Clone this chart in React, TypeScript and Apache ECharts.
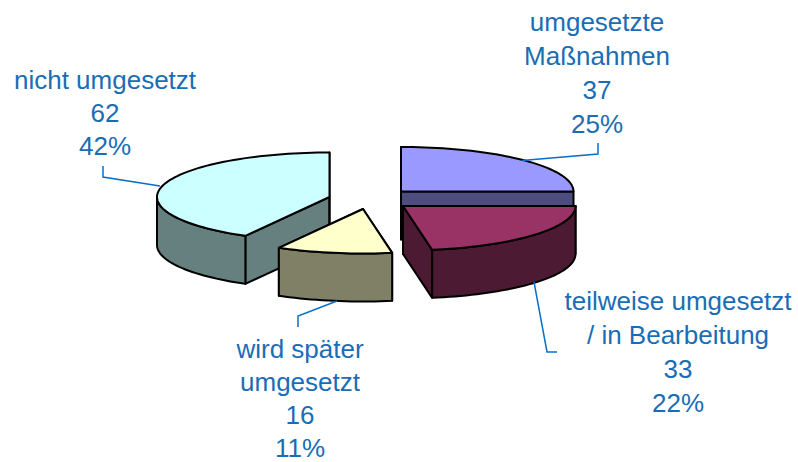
import React, { useEffect, useRef } from "react";
import * as echarts from "echarts";

const categories = ["umgesetzte\nMaßnahmen", "teilweise umgesetzt\n/ in Bearbeitung", "wird später\numgesetzt", "nicht umgesetzt"];
const counts = [37, 33, 16, 62];
const percents = ["25%", "22%", "11%", "42%"];
const topColors = ["#9999FF", "#993366", "#FFFFCC", "#CCFFFF"];
const sideColors = ["#4D4D80", "#4D1A33", "#808066", "#668080"];

// layout only
const centers = [[401, 191.5], [403, 206], [363, 209], [329.5, 197]];
const paintOrder = [0, 3, 1, 2];
const RX = 172.5, RY = 44.5, DEPTH = 48;
const labelCenters = [[597, 73], [678, 352], [300, 398.5], [105, 113]];
const lineSteps = [34, 34, 33, 33];
const leaders = [
  [[522, 160.5], [598, 154], [598, 143]],
  [[534, 282], [547, 352], [557, 352]],
  [[337, 301], [298, 316], [298, 327]],
  [[160, 186], [103, 177], [103, 166]],
];

const total = counts.reduce((a, b) => a + b, 0);
const pt = (c: number[], deg: number, dy = 0) => {
  const r = (deg * Math.PI) / 180;
  return [c[0] + RX * Math.sin(r), c[1] - RY * Math.cos(r) + dy];
};
const arc = (c: number[], a: number, b: number, dy = 0) => {
  const out: number[][] = [];
  const n = Math.max(2, Math.ceil(Math.abs(b - a) / 2));
  for (let i = 0; i <= n; i++) out.push(pt(c, a + ((b - a) * i) / n, dy));
  return out;
};

export default function App() {
  const ref = useRef<HTMLDivElement>(null);
  useEffect(() => {
    const chart = echarts.init(ref.current!, undefined, { renderer: "svg" });
    const ranges: number[][] = [];
    let acc = 0;
    counts.forEach((v) => {
      const s = (acc / total) * 360;
      acc += v;
      ranges.push([s, (acc / total) * 360]);
    });
    const stroke = { stroke: "#000", lineWidth: 2, lineJoin: "round" };
    const labelLines = categories.flatMap((name, i) => {
      const lines = [...name.split("\n"), String(counts[i]), percents[i]];
      return lines.map((text, k) => ({
        type: "text",
        z: 11,
        x: labelCenters[i][0],
        y: labelCenters[i][1] + (k - (lines.length - 1) / 2) * lineSteps[i],
        style: {
          text,
          fill: "#1A6DB5",
          font: '26px "Liberation Sans"',
          lineHeight: 22,
          align: "center",
          verticalAlign: "middle",
        },
      }));
    });
    chart.setOption({
      animation: false,
      backgroundColor: "#fff",
      xAxis: { show: false, type: "value", min: 0, max: 798 },
      yAxis: { show: false, type: "value", min: 0, max: 462 },
      grid: { left: 0, right: 0, top: 0, bottom: 0 },
      series: [
        {
          type: "custom",
          coordinateSystem: "none",
          silent: true,
          data: paintOrder.map((i) => [i, counts[i]]),
          renderItem: (_p: any, api: any) => {
            const i = api.value(0);
            const c = centers[i];
            const [a, b] = ranges[i];
            const side = { fill: sideColors[i], ...stroke };
            const quad = (d: number) => {
              const e = pt(c, d);
              return {
                type: "polygon",
                shape: { points: [c, e, [e[0], e[1] + DEPTH], [c[0], c[1] + DEPTH]] },
                style: side,
              };
            };
            const children: any[] = [quad(a), quad(b)];
            const fa = Math.max(a, 90), fb = Math.min(b, 270);
            if (fb > fa) {
              children.push({
                type: "polygon",
                shape: { points: [...arc(c, fa, fb), ...arc(c, fa, fb, DEPTH).reverse()] },
                style: side,
              });
            }
            children.push({
              type: "polygon",
              shape: { points: [c, ...arc(c, a, b)] },
              style: { fill: topColors[i], ...stroke },
            });
            return { type: "group", children };
          },
        },
      ],
      graphic: [
        ...leaders.map((points) => ({
          type: "polyline",
          z: 10,
          shape: { points },
          style: { stroke: "#0A6FC8", lineWidth: 1.5, fill: "none" },
        })),
        ...labelLines,
      ],
    });
    return () => chart.dispose();
  }, []);
  return <div ref={ref} style={{ position: "fixed", left: 0, top: 0, width: 798, height: 462 }} />;
}
